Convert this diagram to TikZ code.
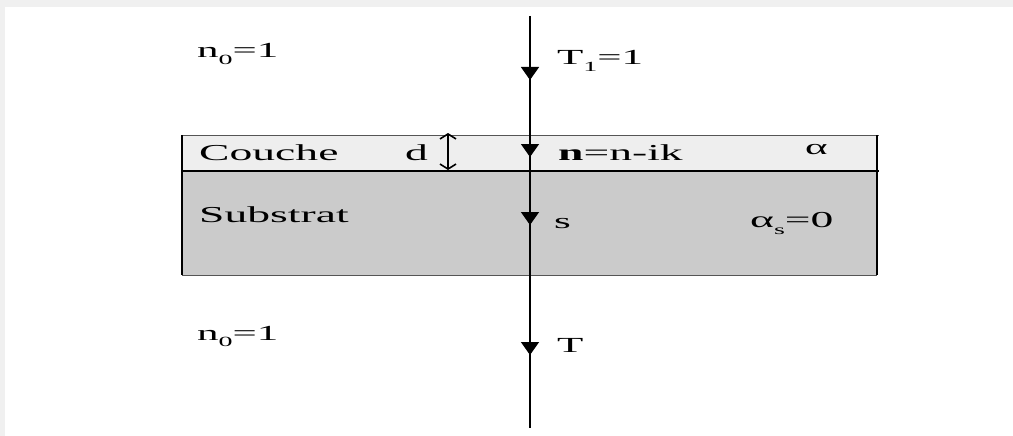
\documentclass[tikz,border=0pt]{standalone}
\usepackage{fontspec}
\setmainfont{Liberation Serif}
\usetikzlibrary{arrows.meta,decorations.markings}
\definecolor{bandgray}{HTML}{F0F0F0}
\definecolor{couchegray}{HTML}{EEEEEE}
\definecolor{subgray}{HTML}{CBCBCB}
\definecolor{edgegray}{HTML}{555555}
\newcommand\wide[1]{\scalebox{2}[1]{#1}}
\newcommand\lowsub[1]{\raisebox{-0.7ex}{\fontsize{14}{14}\selectfont #1}}
\tikzset{
  lbl/.style={anchor=base west, inner sep=0pt, font=\fontsize{21.5}{21.5}\selectfont},
  biglbl/.style={lbl, font=\fontsize{22.8}{22.8}\selectfont},
  ray/.style={line width=1.5pt, postaction={decorate}},
  raytip/.tip={Triangle[width=18pt,length=13pt]},
  barbtip/.tip={Straight Barb[length=5pt,width=16pt,line width=1.6pt]},
}
\begin{document}
\begin{tikzpicture}[x=1pt,y=-1pt]
\useasboundingbox (0,0) rectangle (1013,436);
\fill[white] (0,0) rectangle (1013,436);
% frame bands
\fill[bandgray] (0,0) rectangle (1013,7);
\fill[bandgray] (0,0) rectangle (5,436);
% layers
\fill[couchegray] (182,135) rectangle (877,171);
\fill[subgray] (182,171) rectangle (877,275);
\draw[edgegray, line width=1pt] (182,135) -- (879,135);
\draw[edgegray, line width=1pt] (182,275) -- (877,275);
\draw[black, line width=1.5pt] (182,135) -- (182,275);
\draw[black, line width=2pt] (877,135) -- (877,275);
\draw[black, line width=1.5pt] (182,171) -- (879,171);
% ray
\coordinate (top) at (530,16);
\coordinate (bot) at (530,428);
\draw[ray, decoration={markings,
   mark=at position 64pt with {\arrow{raytip}},
   mark=at position 141pt with {\arrow{raytip}},
   mark=at position 209pt with {\arrow{raytip}},
   mark=at position 339pt with {\arrow{raytip}}}] (top) -- (bot);
% thickness arrow
\coordinate (dtop) at (448,133);
\coordinate (dbot) at (448,170);
\draw[line width=1.5pt, barbtip-barbtip] (dtop) -- (dbot);
% labels
\node[lbl] (n0a) at (197,58) {\wide{n\lowsub{0}=1}};
\node[lbl] (T1) at (557,65) {\wide{T\lowsub{1}=1}};
\node[biglbl] (couche) at (199,160) {\wide{Couche}};
\node[biglbl] (d) at (405,160) {\wide{d}};
\node[biglbl] (nk) at (558,160) {\wide{\textbf{n}=n-ik}};
\node[lbl] (alpha) at (805,154) {\wide{α}};
\node[biglbl] (subs) at (199,222) {\wide{Substrat}};
\node[lbl] (s) at (554,228) {\wide{s}};
\node[biglbl] (alphas) at (750,227) {\wide{α\lowsub{s}=0}};
\node[lbl] (n0b) at (197,340) {\wide{n\lowsub{0}=1}};
\node[lbl] (T) at (557,352) {\wide{T}};
\end{tikzpicture}
\end{document}
